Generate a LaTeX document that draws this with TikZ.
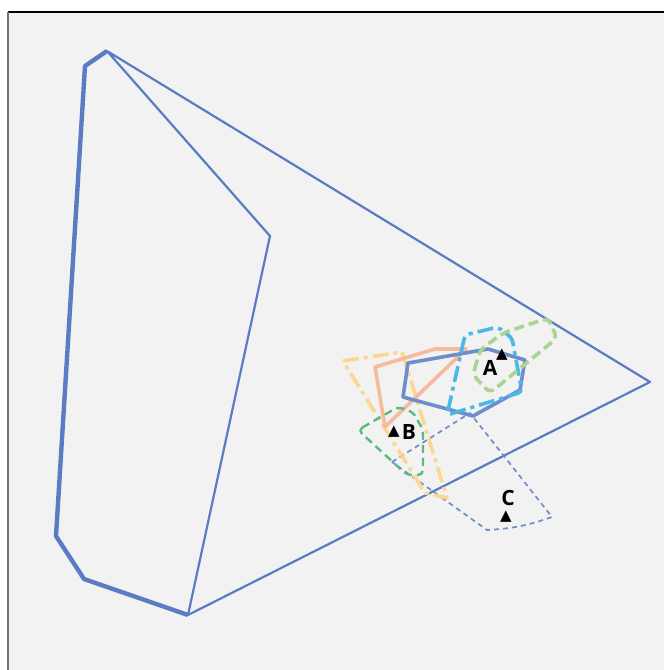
\documentclass[tikz,border=0pt]{standalone}
\usepackage{fontspec}
\setmainfont{Open Sans}
\newfontfamily\symfont{DejaVu Sans}
\begin{document}
\begin{tikzpicture}[x=1pt,y=-1pt,line join=round,
  mainblue/.style={draw=mblue,line width=2.2pt},
  thickblue/.style={draw=mblue,line width=4.4pt},
  lbl/.style={font=\bfseries\fontsize{21}{21}\selectfont,inner sep=0pt},
  tri/.style={font=\symfont\fontsize{15}{15}\selectfont,inner sep=0pt}]
\definecolor{mblue}{HTML}{5B7BC2}
\definecolor{pblue}{HTML}{6F8CCB}
\definecolor{salmon}{HTML}{F7BA9C}
\definecolor{skyb}{HTML}{4CB8EA}
\definecolor{lgreen}{HTML}{A8D591}
\definecolor{dgreen}{HTML}{5BBA7D}
\definecolor{lyellow}{HTML}{FDD691}
\useasboundingbox (0,0) rectangle (664,670);
\fill[white] (0,0) rectangle (664,670);
\fill[fill=black!5] (8,12) rectangle (664,670);
\draw[black,line width=1.2pt] (8,12) -- (664,12);
\draw[black!55,line width=2pt] (8,12) -- (8,670);
% big shapes
\draw[thickblue] (107,51) -- (85,66) -- (56,536) -- (84,579) -- (188,615);
\draw[mainblue] (188,615) -- (270,236) -- (107,51) -- (650,382) -- cycle;
% C region
\draw[pblue,line width=1.7pt,dash pattern=on 5pt off 4pt] (392,462) -- (470,413) -- (552,517) to[bend left=8] (487,530) -- cycle;
% yellow dash-dot
\draw[lyellow,line width=3.6pt,dash pattern=on 16pt off 5pt on 4pt off 5pt] (343,361) -- (402,352) -- (447,498) -- (425,493) -- cycle;
% salmon
\draw[salmon,line width=3.6pt] (375,367) -- (435,349) -- (466,349) -- (385,427) -- cycle;
% blue solid polygon
\draw[pblue,line width=3.6pt] (408,363) -- (488,349) -- (525,360) -- (520,390) -- (473,416) -- (403,397) -- cycle;
% sky blue dash-dot
\draw[skyb,line width=3.6pt,rounded corners=4pt,dash pattern=on 16pt off 5pt on 4pt off 5pt] (447,415) -- (465,335) -- (498,327) -- (512,338) -- (522,392) -- cycle;
% light green dashed
\draw[lgreen,line width=3.6pt,rounded corners=6pt,dash pattern=on 10pt off 5pt] (473,375) -- (480,350) -- (503,333) -- (548,318) -- (557,338) -- (490,393) -- cycle;
% dark green dashed
\draw[dgreen,line width=2.4pt,rounded corners=5pt,dash pattern=on 8pt off 5pt] (358,430) -- (398,407) -- (413,412) -- (423,430) -- (423,475) -- (407,475) -- cycle;
% labels
\node[lbl] (A) at (490,368) {A};
\node[tri] (tA) at (502,355) {▲};
\node[lbl] (B) at (409,432) {B};
\node[tri] (tB) at (394,432) {▲};
\node[lbl] (C) at (508,498) {C};
\node[tri] (tC) at (506,517) {▲};
\end{tikzpicture}
\end{document}
